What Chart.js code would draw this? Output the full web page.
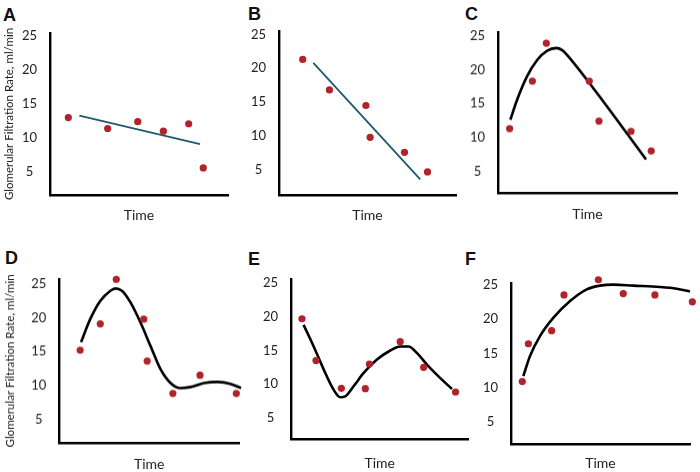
<!DOCTYPE html>
<html>
<head>
<meta charset="utf-8">
<script src="https://cdn.jsdelivr.net/npm/chart.js@4/dist/chart.umd.min.js"></script>
<style>
  html, body { margin:0; padding:0; background:#fff; width:700px; height:472px; overflow:hidden; }
  .panel { position:absolute; }
  .letter { position:absolute; font-family:"Liberation Sans", Arial, sans-serif; font-weight:bold; font-size:18px; color:#111; line-height:1; }
</style>
</head>
<body>
<div class="letter" style="left:3px;top:6px;">A</div>
<div class="letter" style="left:248px;top:5px;">B</div>
<div class="letter" style="left:465px;top:5px;">C</div>
<div class="letter" style="left:5px;top:249px;">D</div>
<div class="letter" style="left:248px;top:250px;">E</div>
<div class="letter" style="left:465px;top:250px;">F</div>

<div class="panel" id="pA"><canvas id="cA"></canvas></div>
<div class="panel" id="pB"><canvas id="cB"></canvas></div>
<div class="panel" id="pC"><canvas id="cC"></canvas></div>
<div class="panel" id="pD"><canvas id="cD"></canvas></div>
<div class="panel" id="pE"><canvas id="cE"></canvas></div>
<div class="panel" id="pF"><canvas id="cF"></canvas></div>

<script>
// ---- Tick labels and axis texts ----
const yTicks = [5, 10, 15, 20, 25];
const yTitle = "Glomerular Filtration Rate, ml/min";
const xTitle = "Time";

// ---- Panel A ----
const aTime = [1.03, 3.24, 4.93, 6.37, 7.79, 8.61];
const aGFR  = [13.0, 11.4, 12.4, 11.0, 12.1, 5.6];
const aFitTime = [1.65, 8.43];
const aFitGFR  = [13.3, 9.1];

// ---- Panel B ----
const bTime = [1.34, 2.85, 4.91, 5.15, 7.09, 8.39];
const bGFR  = [21.3, 16.8, 14.5, 9.8, 7.6, 4.7];
const bFitTime = [1.94, 7.98];
const bFitGFR  = [20.8, 3.6];

// ---- Panel C ----
const cTime = [0.65, 1.92, 2.70, 5.10, 5.64, 7.43, 8.56];
const cGFR  = [11.3, 18.3, 23.9, 18.3, 12.4, 10.9, 8.0];
const cFitTime = [0.69, 1.06, 1.62, 2.18, 2.74, 3.26, 3.58, 3.85, 5.34, 8.27];
const cFitGFR  = [12.6, 15.5, 19.0, 21.4, 22.8, 23.2, 22.9, 22.2, 17.2, 6.75];

// ---- Panel D ----
const dTime = [1.16, 2.28, 3.17, 4.70, 4.89, 6.32, 7.83, 9.85];
const dGFR  = [15.2, 19.1, 25.7, 19.8, 13.6, 8.8, 11.5, 8.8];
const dFitTime = [1.21, 1.72, 2.28, 2.84, 3.12, 3.49, 3.96, 4.52, 5.08, 5.64, 6.19, 6.75, 7.31, 8.06, 8.81, 9.55, 10.11, 10.58];
const dFitGFR  = [16.4, 19.8, 22.5, 24.0, 24.35, 24.0, 22.3, 19.3, 15.8, 12.35, 10.35, 9.6, 9.76, 10.35, 10.5, 10.2, 9.6, 8.9];

// ---- Panel E ----
const eTime = [0.62, 1.41, 2.84, 4.19, 4.42, 6.16, 7.48, 9.28];
const eGFR  = [19.7, 13.5, 9.4, 9.35, 13.0, 16.3, 12.5, 8.85];
const eFitTime = [0.71, 1.28, 1.84, 2.40, 2.78, 3.06, 3.53, 4.10, 4.85, 5.60, 6.16, 6.63, 7.11, 7.67, 8.42, 9.08];
const eFitGFR  = [18.8, 15.6, 12.2, 9.2, 8.07, 8.2, 9.7, 11.67, 13.65, 15.0, 15.6, 15.6, 14.6, 12.9, 10.9, 9.3];

// ---- Panel F ----
const fTime = [0.63, 0.97, 2.27, 2.96, 4.88, 6.27, 8.04, 10.13];
const fGFR  = [10.9, 16.4, 18.3, 23.5, 25.7, 23.7, 23.5, 22.5];
const fFitTime = [0.69, 1.06, 1.62, 2.36, 3.30, 4.23, 4.97, 5.72, 6.83, 8.32, 9.26, 10.0];
const fFitGFR  = [11.7, 14.6, 17.5, 20.15, 22.6, 24.3, 24.85, 25.0, 24.85, 24.65, 24.4, 24.0];

function pts(xs, ys) { return xs.map((x, i) => ({ x: x, y: ys[i] })); }

const FONT = '"Lato", "Open Sans", sans-serif';
const DOT = '#b0232a';
const TEAL = '#1d5a6e';

// layout specs (pixel geometry of each panel)
const panels = [
  { id:'A', left:0,     top:23,    w:238,   h:205,   padTop:10, padR:10, yW:50,   xH:33,  yMin:1.62, yMax:25.44, title:true, tPad:2.5,
    sx:aTime, sy:aGFR, fx:aFitTime, fy:aFitGFR, line:TEAL, lw:1.8, curve:false },
  { id:'B', left:239,   top:21,    w:227,   h:207,   padTop:10, padR:10, yW:40,   xH:33,  yMin:1.30, yMax:25.49, title:false,
    sx:bTime, sy:bGFR, fx:bFitTime, fy:bFitGFR, line:TEAL, lw:1.8, curve:false },
  { id:'C', left:457.7, top:22.3,  w:229,   h:203.4, padTop:10, padR:10, yW:40,   xH:33,  yMin:1.75, yMax:25.55, title:false,
    sx:cTime, sy:cGFR, fx:cFitTime, fy:cFitGFR, line:'#000', lw:2.6, curve:true },
  { id:'D', left:0,     top:269.3, w:252,   h:206.7, padTop:10, padR:13, yW:59.3, xH:34,  yMin:1.53, yMax:25.74, title:true, tPad:3.5,
    sx:dTime, sy:dGFR, fx:dFitTime, fy:dFitGFR, line:'#000', lw:2.6, curve:true },
  { id:'E', left:250.7, top:268.7, w:225.3, h:206.4, padTop:10, padR:8,  yW:40,   xH:35.8,yMin:1.80, yMax:25.59, title:false,
    sx:eTime, sy:eGFR, fx:eFitTime, fy:eFitGFR, line:'#000', lw:2.6, curve:true },
  { id:'F', left:471,   top:272.7, w:229,   h:202.4, padTop:10, padR:10, yW:40,   xH:30.8,yMin:1.74, yMax:25.23, title:false,
    sx:fTime, sy:fGFR, fx:fFitTime, fy:fFitGFR, line:'#000', lw:2.6, curve:true }
];

panels.forEach(p => {
  const wrap = document.getElementById('p' + p.id);
  wrap.style.left = p.left + 'px';
  wrap.style.top = p.top + 'px';
  wrap.style.width = p.w + 'px';
  wrap.style.height = p.h + 'px';
  const canvas = document.getElementById('c' + p.id);

  new Chart(canvas, {
    type: 'scatter',
    data: {
      datasets: [
        {
          type: 'line',
          data: pts(p.fx, p.fy),
          borderColor: p.line,
          borderWidth: p.lw,
          pointRadius: 0,
          fill: false,
          tension: p.curve ? 0.4 : 0,
          cubicInterpolationMode: p.curve ? 'monotone' : 'default',
          clip: false,
          order: 2
        },
        {
          type: 'scatter',
          data: pts(p.sx, p.sy),
          backgroundColor: DOT,
          borderColor: DOT,
          borderWidth: 0,
          pointRadius: 3.6,
          clip: false,
          order: 1
        }
      ]
    },
    options: {
      responsive: true,
      maintainAspectRatio: false,
      animation: false,
      events: [],
      layout: { padding: { top: p.padTop, right: p.padR, left: 0, bottom: 0 } },
      plugins: { legend: { display: false }, tooltip: { enabled: false } },
      scales: {
        x: {
          type: 'linear',
          min: 0, max: 10,
          grid: { display: false, drawTicks: false },
          border: { display: true, color: '#000', width: 2.4 },
          ticks: { display: false },
          title: { display: true, text: xTitle, color: '#222', font: { family: FONT, size: 14 }, padding: { top: 4, bottom: 4 } },
          afterFit: s => { s.height = p.xH; s.paddingLeft = 0; s.paddingRight = 0; }
        },
        y: {
          type: 'linear',
          min: p.yMin, max: p.yMax,
          grid: { display: false, drawTicks: false },
          border: { display: true, color: '#000', width: 2.4 },
          afterBuildTicks: s => { s.ticks = yTicks.map(v => ({ value: v })); },
          ticks: { color: '#222', font: { family: FONT, size: 13 }, padding: 13, crossAlign: 'center' },
          title: { display: p.title, text: yTitle, color: '#222', font: { family: FONT, size: 11.5 }, padding: { top: p.tPad || 2, bottom: 2 } },
          afterFit: s => { s.width = p.yW; s.paddingTop = 0; s.paddingBottom = 0; }
        }
      }
    }
  });
});
</script>
</body>
</html>
